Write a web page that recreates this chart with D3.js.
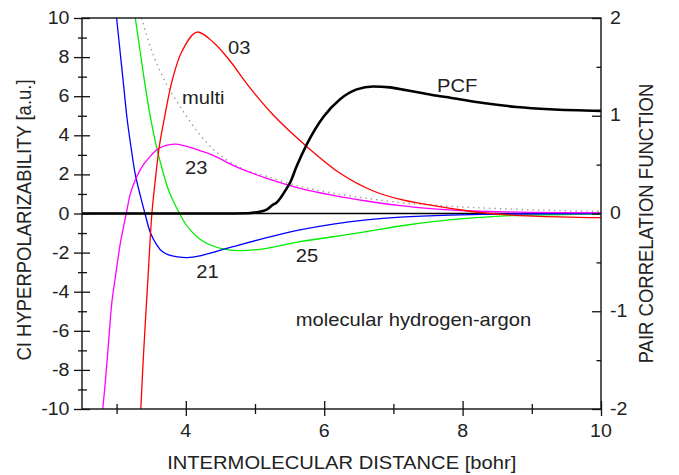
<!DOCTYPE html>
<html>
<head>
<meta charset="utf-8">
<script src="https://cdn.jsdelivr.net/npm/d3@7/dist/d3.min.js"></script>
<style>
  body { margin: 0; background: #fff; }
  text { font-family: "Liberation Sans", Arial, Helvetica, sans-serif; fill: #222; }
</style>
</head>
<body>
<svg id="chart" width="679" height="475"></svg>
<script>
// values (x in bohr, y in a.u., pcf on the right axis)
const curve03 = [[3.35,-10],[3.39,-7.15],[3.46,-2.89],[3.51,0],[3.57,2.06],[3.62,3.5],[3.70,5.05],[3.80,6.76],
  [3.945,8.3],[4.16,9.28],[4.40,8.75],[4.64,7.8],[4.9,6.55],[5.26,5.05],[5.75,3.42],[6.23,2.06],[6.71,1.15],
  [7.1,0.72],[7.58,0.4],[8.06,0.14],[8.4,0.0],[9.02,-0.13],[10,-0.21]];
const curve21 = [[3.0,10],[3.05,8.3],[3.10,6.6],[3.15,4.9],[3.21,3.35],[3.27,2.0],[3.34,0.95],[3.41,0],[3.49,-1],
  [3.58,-1.6],[3.66,-1.95],[3.75,-2.12],[3.88,-2.22],[4.02,-2.26],[4.2,-2.17],[4.68,-1.70],[5.17,-1.24],
  [5.65,-0.84],[6.13,-0.54],[6.61,-0.33],[7.1,-0.19],[7.82,-0.08],[8.5,-0.03],[10,0]];
const curve23 = [[2.8,-10],[2.84,-8.5],[2.89,-6.3],[2.93,-4.6],[2.98,-3.3],[3.06,-1.4],[3.14,0],[3.2,1.03],
  [3.27,1.71],[3.36,2.35],[3.46,2.82],[3.61,3.33],[3.83,3.55],[4.0,3.45],[4.2,3.22],[4.38,3.0],[4.69,2.45],
  [4.9,2.14],[5.17,1.8],[5.65,1.29],[6.13,0.93],[6.61,0.64],[7.1,0.4],[7.58,0.24],[8.06,0.14],[8.5,0.09],
  [9.0,0.06],[10,0.03]];
const curve25 = [[3.27,10],[3.34,8.3],[3.41,6.6],[3.49,4.9],[3.57,3.5],[3.68,2.0],[3.75,1.2],[3.83,0.55],[3.91,0],
  [4.0,-0.55],[4.1,-0.98],[4.2,-1.3],[4.35,-1.6],[4.5,-1.78],[4.78,-1.90],[5.17,-1.78],[5.65,-1.44],[6.13,-1.19],
  [6.61,-0.93],[7.1,-0.64],[7.57,-0.42],[8.06,-0.25],[8.54,-0.13],[9.02,-0.08],[10,-0.02]];
const curveMulti = [[3.36,10],[3.51,8.3],[3.7,6.76],[3.95,5.3],[4.21,4.0],[4.49,3.0],[4.83,2.27],[5.17,1.9],
  [5.65,1.38],[6.13,1.04],[6.61,0.78],[7.1,0.56],[7.6,0.42],[8.06,0.32],[8.5,0.25],[9.02,0.19],[9.5,0.14],[10,0.11]];
const pcf = [[2.5,0],[4.5,0],[4.9,0.003],[5.02,0.012],[5.17,0.04],[5.26,0.09],[5.31,0.11],[5.46,0.26],[5.51,0.32],
  [5.6,0.48],[5.75,0.71],[5.99,0.99],[6.23,1.17],[6.47,1.27],[6.71,1.30],[6.95,1.29],[7.19,1.26],[7.43,1.23],
  [7.67,1.20],[7.82,1.185],[8.3,1.13],[8.78,1.09],[9.26,1.066],[10,1.05]];

const xTicks = [3, 4, 5, 6, 7, 8, 9, 10];
const xLabels = [4, 6, 8, 10];
const yTicks = d3.range(-10, 11, 1);
const pcfTicks = [-2, -1.5, -1, -0.5, 0, 0.5, 1, 1.5, 2];

const svg = d3.select("#chart");
const mLeft = 82, mRight = 601, mTop = 18, mBottom = 409;
const sx = 1.12; // the original lettering is a bit wide

const x = d3.scaleLinear().domain([2.5, 10]).range([mLeft, mRight]);
const y = d3.scaleLinear().domain([-10, 10]).range([mBottom, mTop]);
const y2 = d3.scaleLinear().domain([-2, 2]).range([mBottom, mTop]);

svg.append("rect").attr("width", 679).attr("height", 475).attr("fill", "#fff");

svg.append("defs").append("clipPath").attr("id", "clip")
  .append("rect").attr("x", mLeft).attr("y", mTop).attr("width", mRight - mLeft).attr("height", mBottom - mTop);

function label(txt, px, py, size, anchor, rot) {
  return svg.append("text")
    .attr("transform", "translate(" + px + "," + py + ") scale(" + sx + ",1)" + (rot ? " rotate(" + rot + ")" : ""))
    .attr("text-anchor", anchor || "start")
    .style("font-size", size + "px")
    .text(txt);
}

// curves
const plot = svg.append("g").attr("clip-path", "url(#clip)");
const line = d3.line().x(d => x(d[0])).y(d => y(d[1])).curve(d3.curveCatmullRom.alpha(0.5));
const line2 = d3.line().x(d => x(d[0])).y(d => y2(d[1])).curve(d3.curveMonotoneX);

plot.append("line")
  .attr("x1", mLeft).attr("x2", mRight).attr("y1", y(0)).attr("y2", y(0))
  .attr("stroke", "#000").attr("stroke-width", 1.3);

plot.append("path").datum(curveMulti).attr("d", line)
  .attr("fill", "none").attr("stroke", "#9a9a9a").attr("stroke-width", 1.4).attr("stroke-dasharray", "1.4,4");

[[curve25, "#00ee00"], [curve21, "#0000ff"], [curve23, "#ff00ff"], [curve03, "#ff0000"]].forEach(c => {
  plot.append("path").datum(c[0]).attr("d", line)
    .attr("fill", "none").attr("stroke", c[1]).attr("stroke-width", 1.3);
});

plot.append("path").datum(pcf).attr("d", line2)
  .attr("fill", "none").attr("stroke", "#000").attr("stroke-width", 2.6);

// frame
svg.append("rect").attr("x", mLeft).attr("y", mTop).attr("width", mRight - mLeft).attr("height", mBottom - mTop)
  .attr("fill", "none").attr("stroke", "#111").attr("stroke-width", 1.4);

// left axis
const gl = svg.append("g").attr("transform", "translate(" + mLeft + ",0)")
  .call(d3.axisLeft(y).tickValues(yTicks).tickSize(0).tickFormat(""));
gl.select(".domain").remove();
gl.selectAll(".tick line")
  .attr("x1", d => d % 2 === 0 ? -8 : -4)
  .attr("x2", d => d % 2 === 0 ? 8 : 5)
  .attr("stroke", "#111").attr("stroke-width", 1.3);
yTicks.filter(d => d % 2 === 0).forEach(d => label(String(d), 69.5, y(d) + 6, 17.5, "end"));

// bottom axis
const gb = svg.append("g").attr("transform", "translate(0," + mBottom + ")")
  .call(d3.axisBottom(x).tickValues(xTicks).tickSize(0).tickFormat(""));
gb.select(".domain").remove();
gb.selectAll(".tick line")
  .attr("y1", d => d % 2 === 0 ? -8 : -5)
  .attr("y2", d => d % 2 === 0 ? 7 : 5)
  .attr("stroke", "#111").attr("stroke-width", 1.3);
xLabels.forEach(d => label(String(d), x(d), 437, 17.5, "middle"));

// right axis (pair correlation function)
const gr = svg.append("g").attr("transform", "translate(" + mRight + ",0)")
  .call(d3.axisLeft(y2).tickValues(pcfTicks).tickSize(0).tickFormat(""));
gr.select(".domain").remove();
gr.selectAll(".tick line")
  .attr("x1", d => Number.isInteger(d) ? -9 : -4.5)
  .attr("x2", 0)
  .attr("stroke", "#111").attr("stroke-width", 1.3);
pcfTicks.filter(d => Number.isInteger(d)).forEach(d => label(String(d), 610, y2(d) + 5.5, 17.5, "start"));

// axis titles
label("INTERMOLECULAR DISTANCE [bohr]", 341.7, 468.7, 18, "middle");
label("CI HYPERPOLARIZABILITY [a.u.]", 31, 220, 18.5, "middle", -90);
label("PAIR CORRELATION FUNCTION", 653, 223.5, 18.5, "middle", -90);

// curve annotations
label("03", x(4.61), y(8.16), 18);
label("multi", x(3.945), y(5.6), 18);
label("23", x(3.99), y(2.02), 18);
label("21", x(4.15), y(-3.28), 18);
label("25", x(5.59), y(-2.5), 18);
label("PCF", x(7.63), y(6.23), 18);
label("molecular hydrogen-argon", x(5.59), y(-5.75), 18);
</script>
</body>
</html>
